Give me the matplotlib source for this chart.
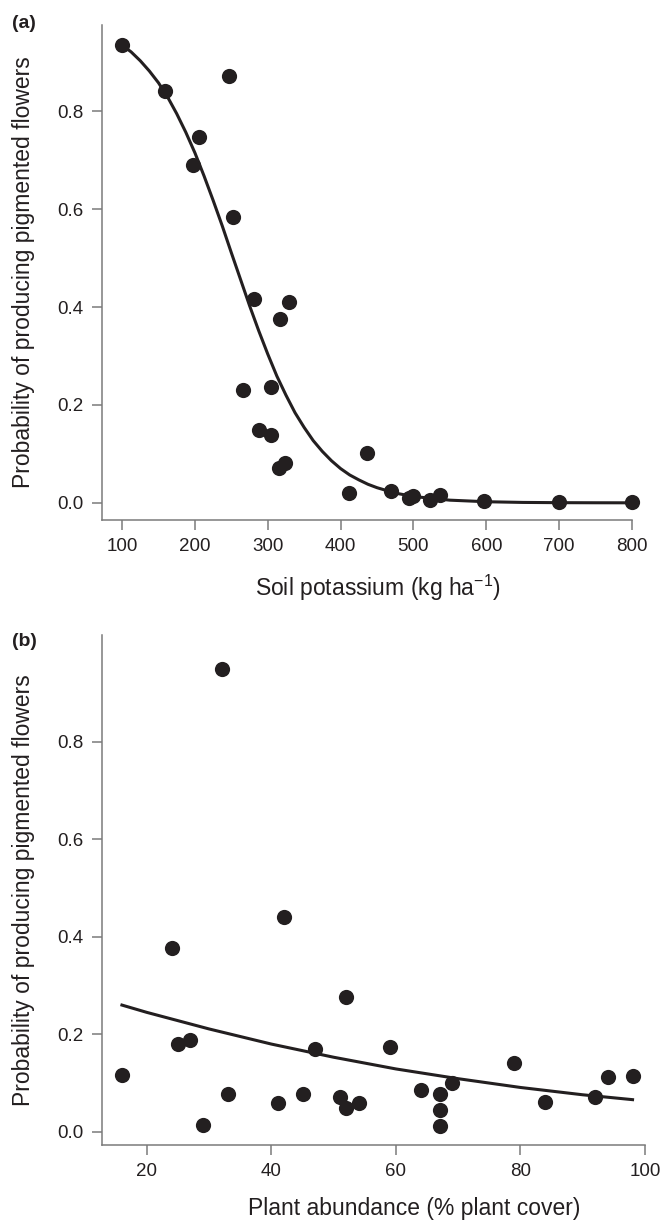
import numpy as np
import matplotlib.pyplot as plt

plt.rcParams['font.family'] = ['Liberation Sans', 'DejaVu Sans']

# Panel (a): soil potassium vs probability of pigmented flowers
potassium = [100, 159, 247, 205, 198, 253, 281, 329, 317, 266, 305, 288, 304, 316, 324,
             436, 411, 469, 494, 500, 523, 536, 597, 700, 800]
prob_a = [0.935, 0.841, 0.871, 0.748, 0.690, 0.583, 0.417, 0.411, 0.375, 0.231, 0.237,
          0.149, 0.139, 0.071, 0.081, 0.101, 0.020, 0.025, 0.009, 0.013, 0.006, 0.016,
          0.003, 0.001, 0.001]
# fitted curve (a)
fit_x_a = [100, 112.5, 125, 137.5, 150, 162.5, 175, 187.5, 200, 212.5, 225, 237.5, 250,
           262.5, 275, 287.5, 300, 312.5, 325, 337.5, 350, 362.5, 375, 387.5, 400, 412.5,
           425, 437.5, 450, 475, 500, 550, 600, 650, 700, 750, 800]
fit_y_a = [0.935, 0.921, 0.903, 0.882, 0.858, 0.829, 0.795, 0.757, 0.715, 0.668, 0.618,
           0.566, 0.511, 0.457, 0.403, 0.352, 0.304, 0.259, 0.220, 0.184, 0.154, 0.127,
           0.105, 0.086, 0.070, 0.057, 0.047, 0.038, 0.031, 0.020, 0.013, 0.0055, 0.0023,
           0.0009, 0.0004, 0.0002, 0.0001]

# Panel (b): plant abundance vs probability of pigmented flowers
cover = [32, 16, 24, 25, 27, 29, 33, 41, 42, 45, 47, 51, 52, 52, 54, 59, 64, 67, 67, 67,
         69, 79, 84, 92, 94, 98]
prob_b = [0.950, 0.117, 0.377, 0.180, 0.188, 0.014, 0.078, 0.059, 0.440, 0.077, 0.170,
          0.072, 0.276, 0.049, 0.060, 0.174, 0.085, 0.078, 0.045, 0.011, 0.100, 0.142,
          0.061, 0.071, 0.113, 0.115]
fit_x_b = [16, 20, 30, 40, 50, 60, 70, 80, 90, 98]
fit_y_b = [0.260, 0.245, 0.211, 0.180, 0.153, 0.129, 0.109, 0.091, 0.076, 0.066]

ink = '#231f20'
axis_grey = '#7a7a7a'

fig = plt.figure(figsize=(6.66, 12.2), dpi=100)
ax_a = fig.add_axes([102 / 666, 1 - 520 / 1220, 530 / 666, 495 / 1220])
ax_b = fig.add_axes([102 / 666, 1 - 1145 / 1220, 543 / 666, 510 / 1220])


def style(ax, width_px):
    for side in ['top', 'right']:
        ax.spines[side].set_visible(False)
    for side in ['left', 'bottom']:
        ax.spines[side].set_color(axis_grey)
        ax.spines[side].set_linewidth(1.1)
    ax.tick_params(direction='out', length=7.2, width=1.1, color=axis_grey,
                   labelsize=13.5, labelcolor=ink, pad=6)
    ax.set_ylabel('Probability of producing pigmented flowers', fontsize=16.5,
                  color=ink, va='center')
    ax.yaxis.set_label_coords(-(102 - 24) / width_px, 0.5)


ax_a.plot(fit_x_a, fit_y_a, color=ink, lw=2.2, zorder=2, clip_on=False)
ax_a.scatter(potassium, prob_a, s=120, color=ink, zorder=3, clip_on=False, linewidths=0)
ax_a.set_xlim(72.5, 800)
ax_a.set_ylim(-0.035, 0.976)
ax_a.set_xticks([100, 200, 300, 400, 500, 600, 700, 800])
ax_a.set_yticks([0.0, 0.2, 0.4, 0.6, 0.8])
ax_a.set_yticklabels(['0.0', '0.2', '0.4', '0.6', '0.8'])
ax_a.set_xlabel('Soil potassium (kg ha$^{\\mathregular{-1}}$)', fontsize=16.5, color=ink,
                va='center')
ax_a.xaxis.set_label_coords((378 - 102) / 530, -(588 - 520) / 495)
style(ax_a, 530)

ax_b.plot(fit_x_b, fit_y_b, color=ink, lw=2.2, zorder=2, clip_on=False)
ax_b.scatter(cover, prob_b, s=120, color=ink, zorder=3, clip_on=False, linewidths=0)
ax_b.set_xlim(12.8, 100)
ax_b.set_ylim(-0.027, 1.019)
ax_b.set_xticks([20, 40, 60, 80, 100])
ax_b.set_yticks([0.0, 0.2, 0.4, 0.6, 0.8])
ax_b.set_yticklabels(['0.0', '0.2', '0.4', '0.6', '0.8'])
ax_b.set_xlabel('Plant abundance (% plant cover)', fontsize=16.5, color=ink, va='center')
ax_b.xaxis.set_label_coords((414 - 102) / 543, -(1208 - 1145) / 510)
style(ax_b, 543)

fig.text(12 / 666, 1 - 23 / 1220, '(a)', fontsize=14, fontweight='bold', color=ink,
         va='center', ha='left')
fig.text(12 / 666, 1 - 642 / 1220, '(b)', fontsize=14, fontweight='bold', color=ink,
         va='center', ha='left')

fig.savefig('out.png', dpi=100)
